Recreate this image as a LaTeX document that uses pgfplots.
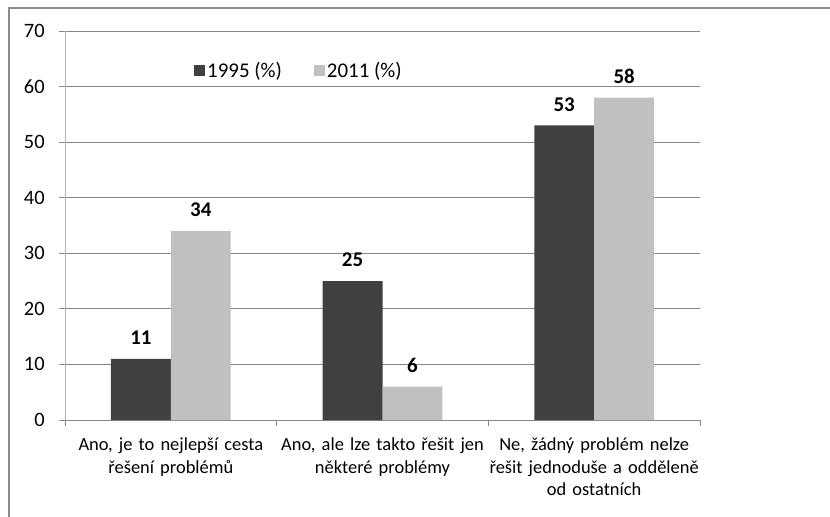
\documentclass[border=0pt]{standalone}
\usepackage{fontspec}
\setmainfont{Carlito}
\usepackage{pgfplots}
\pgfplotsset{compat=1.18}

\definecolor{darkbar}{HTML}{404040}
\definecolor{lightbar}{HTML}{C0C0C0}
\definecolor{gridc}{HTML}{868686}
\definecolor{framec}{HTML}{8C8C8C}

\begin{document}
\fontsize{18.5}{23}\selectfont
\begin{tikzpicture}[x=1bp,y=1bp]
\begin{axis}[
    at={(0,0)}, anchor=south west,
    scale only axis,
    width=635bp, height=389bp,
    ybar=0pt, bar width=0.283,
    xmin=-0.5, xmax=2.5,
    ymin=0, ymax=70,
    ytick={0,10,...,70},
    xtick={0,1,2},
    xticklabels={{Ano, je to nejlepší cesta\\řešení problémů},
                 {Ano, ale lze takto řešit jen\\některé problémy},
                 {Ne, žádný problém nelze\\řešit jednoduše a odděleně\\od ostatních}},
    xticklabel style={align=center, text width=212bp, yshift=-5bp,
                      font=\fontsize{18.5}{23}\selectfont},
    major x tick style={draw=none},
    minor xtick={-0.5,0.5,1.5,2.5},
    minor x tick style={draw=gridc, line width=0.8bp},
    minor tick length=6bp,
    yticklabel style={xshift=-8bp, font=\fontsize{20.5}{24}\selectfont},
    major y tick style={draw=gridc, line width=0.8bp},
    major tick length=6bp,
    tick align=outside,
    ymajorgrids, grid style={draw=gridc, line width=0.9bp},
    axis x line*=bottom, axis y line*=left,
    x axis line style={draw=gridc, line width=0.9bp, -},
    y axis line style={draw=gridc!60, line width=0.9bp, -},
    /pgf/number format/assume math mode=true,
    nodes near coords={\fontsize{21}{24}\selectfont\bfseries\pgfmathprintnumber{\pgfplotspointmeta}},
    nodes near coords style={color=black, inner sep=2bp, yshift=12bp},
    legend style={at={(0.3685,0.897)}, anchor=center, draw=none, fill=none,
                  legend columns=2, font=\fontsize{21}{24}\selectfont,
                  /tikz/every even column/.append style={column sep=30bp}},
    legend image code/.code={\fill[#1] (-2bp,-5bp) rectangle (9bp,6bp);},
]
\addplot[fill=darkbar, draw=none] coordinates {(0,11) (1,25) (2,53)};
\addplot[fill=lightbar, draw=none] coordinates {(0,34) (1,6) (2,58)};
\legend{1995 (\%), 2011 (\%)}
\end{axis}
\draw[framec, line width=1.6bp] (-56bp,-97bp) -- (-56bp,412bp) -- (765bp,412bp);
\pgfresetboundingbox
\path (-65bp,-97bp) rectangle (765bp,420bp);
\end{tikzpicture}
\end{document}
